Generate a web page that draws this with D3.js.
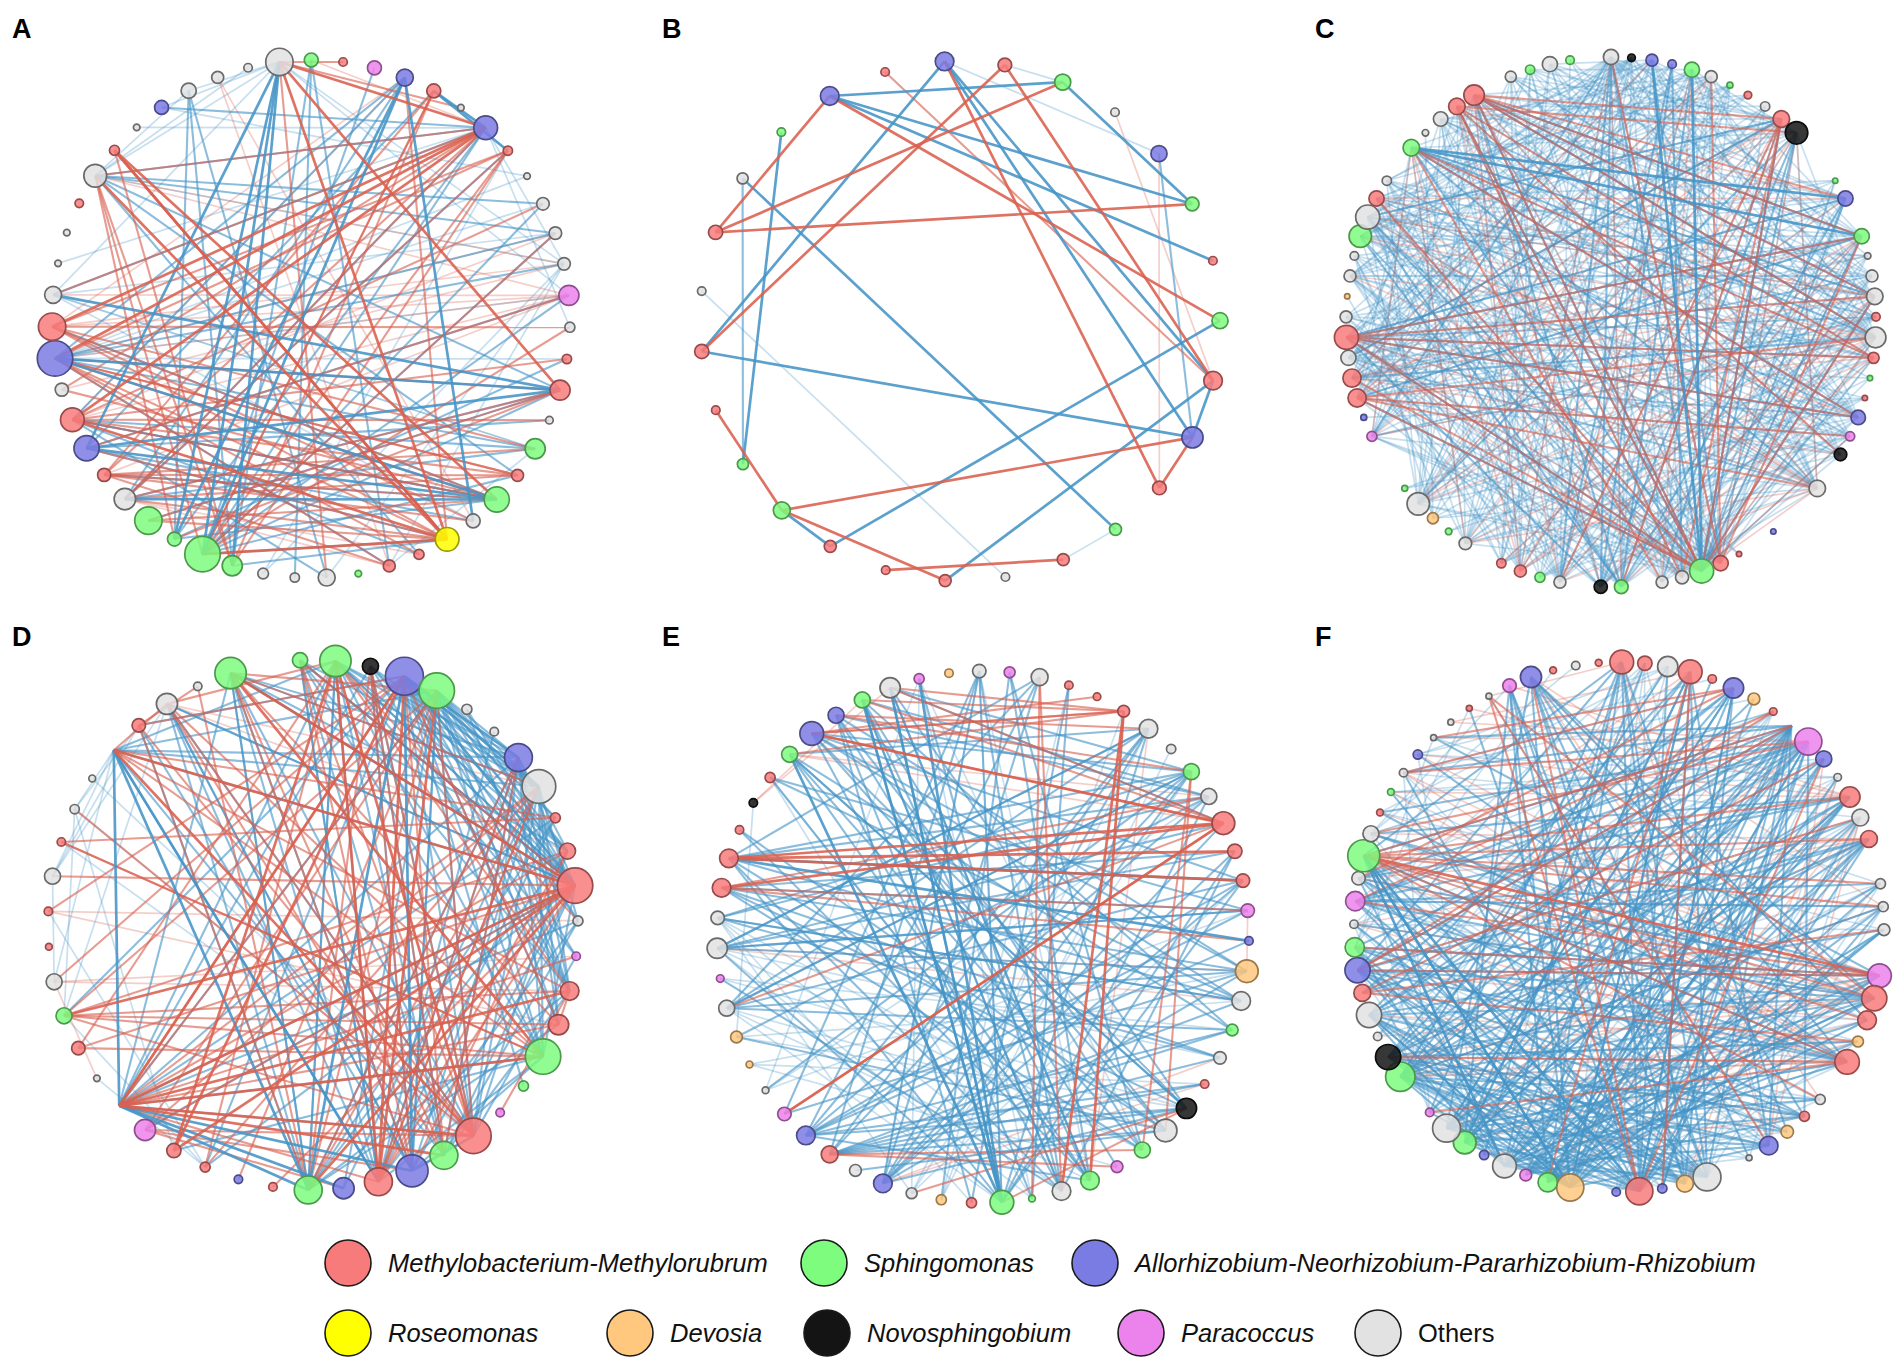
<!DOCTYPE html>
<html>
<head>
<meta charset="utf-8">
<script src="https://cdn.jsdelivr.net/npm/d3@7"></script>
<style>
  body{margin:0;background:#fff;}
  svg{display:block;font-family:"Liberation Sans",Arial,sans-serif;}
</style>
</head>
<body>
<svg id="fig" width="1904" height="1367"></svg>
<script>
// genus groups (legend order)
var genera = ["M","S","R","Y","D","N","P","O"];
var generaNames = ["Methylobacterium-Methylorubrum","Sphingomonas","Allorhizobium-Neorhizobium-Pararhizobium-Rhizobium",
                   "Roseomonas","Devosia","Novosphingobium","Paracoccus","Others"];
var generaColors = ["#f87b7b","#7efc7e","#7b7be4","#ffff00","#ffc87e","#141414","#ec82ec","#e2e2e2"];

// ---- A ----
var groupsA = ["O","S","M","P","R","M","O","R","M","O","O","O","O","P","O","M","M","O","S","M","S","O","Y","M","M","S",
               "O","O","O","S","S","S","S","O","M","R","M","O","R","M","O","O","O","M","O","M","O","R","O","O","O"];
var sizesA = [5.2,1.35,0.5,1.35,2,1.35,0.3,3.9,0.6,0.3,1.1,1.1,1.1,2.8,0.7,0.6,2.8,0.4,2.8,1,4.4,1.35,3.9,0.7,1,0.3,
              2,0.6,0.8,2.8,8.7,1.35,5.2,3.2,1.2,4.4,3.9,1.2,8.7,5.2,2,0.3,0.3,0.5,3.6,0.7,0.3,1.35,1.6,1,0.5];
var negA = [[0,3,[29,31,35,30]],[0,1,[44,40,48,12,13]],[4,3,[30,31,21]],[4,2,[33,36,38]],[5,3,[8,7]],
            [7,2,[44,40,47,30,33]],[7,1,[12,14,41,46]],[16,3,[38,35,40]],[16,2,[30,44,32]],[20,3,[38,35,33]],
            [20,2,[31,34,39,36]],[22,2,[30,29,35]],[30,2,[13,10,11,19,3]],[38,2,[12,11,18,24]],[38,1,[10,9,13,15]],
            [44,2,[10,11,19,23]],[44,1,[12,48,50]],[35,2,[13,21,17,5]],[33,2,[16,18,8]],[48,2,[29,31,26]],
            [1,2,[27,29,24]],[40,1,[11,18,21]],[36,2,[18,20,26,23]],[18,1,[24,40]],[31,2,[7,15]],[28,1,[8,12]],
            [47,1,[0,9]],[12,1,[24,26]]];
var posA = [[0,3,[7,22,16]],[0,2,[6,26,2]],[7,3,[38,36,39]],[7,2,[40,44,34,37,33]],[8,2,[33,38,30]],
            [13,1,[38,39,36,44,40,34]],[13,2,[35]],[12,1,[39,37,44]],[16,2,[32,33,31,38]],[19,2,[38,36,33]],
            [20,2,[39,37,36,34,32]],[22,3,[45,44,30,36]],[22,2,[39,35,33,32,4]],[24,2,[38,34]],[29,2,[45,5,8]],
            [30,2,[5,11,14]],[36,2,[17,15,10]],[38,2,[19,20,22,23]],[39,2,[18,14,21,8]],[44,2,[29,30,31]],
            [45,3,[22,20]],[34,2,[18,21,19]],[5,2,[34,30]],[4,1,[39,36]],[11,1,[36,38]],[49,1,[21,24]],
            [1,1,[7]],[33,1,[23,24]]];

// ---- B ----
var groupsB = ["R","M","S","O","R","S","M","S","M","R","M","S","M","O","M","M","M","S","S","M","M","O","M","O","S","R","M"];
var sizesB = [2.4,1.3,1.8,0.5,1.8,1.3,0.5,1.8,2.4,3.1,1.3,1,1,0.5,1,0.5,1,2,0.85,0.5,1.4,0.5,1.4,0.85,0.5,2.4,0.5];
var negB = [[25,3,[2,5,6]],[0,3,[9,8,20]],[1,1,[2]],[0,1,[4]],[2,3,[5]],[4,2,[9]],[7,3,[16]],[8,3,[14]],
            [20,3,[9]],[23,3,[11]],[24,3,[18]],[23,2,[18]],[21,1,[13]],[17,3,[16]],[12,1,[11]],[9,3,[8]]];
var posB = [[22,3,[25,2,5]],[20,3,[1]],[25,3,[7]],[26,2,[8]],[0,3,[10]],[1,3,[8]],[3,1,[8]],[4,1,[10]],
            [10,3,[9]],[9,3,[17]],[19,3,[17]],[17,3,[14]],[15,3,[12]]];

// ---- C ---- (size 0 = empty slot)
var groupsC = ["O","N","R","R","S","O","S","M","O","M","N","O","O","S","R","O","S","O","O","O","M","O","M","S","M","R",
               "P","N","O","O","O","O","R","O","M","M","S","O","O","O","S","N","O","O","S","M","M","O","O","S","D","O",
               "S","O","O","P","R","M","M","O","M","O","D","O","O","S","O","M","O","O","S","O","O","M","M","O","O","S",
               "O","S","O"];
var sizesC = [1.6,0.4,1,0.5,1.6,1,0.25,0.4,0.6,1.9,3.5,0,0,0.2,1.6,0,1.6,0.3,1,1.9,0.5,3,0.85,0.2,0.2,1.45,
              0.6,1.1,0,1.9,0,0,0.2,0,0.2,1.6,4,1.2,1,0,1.3,1.2,0,1,0.7,1,0.6,0,1.1,0.3,0.85,3.5,
              0.25,0,0,0.7,0.25,2.3,2.3,1.6,4,1,0.2,1,0.5,3.5,4,1.6,0.6,0,1.9,0.3,1.45,1.9,2.9,0,0.85,0.6,
              1.6,0.5,0];
var negC = [[70,3,[14,16]],[70,2,[25,29,36,21,19]],[36,3,[4,2]],[36,2,[0,9,10,14,16,19,57,60,66,73,74]],
            [36,1,[5,8,13,17,18,21,22,26,27,48,51,55,59,63,64,67]],[40,2,[4,14,65,66,74]],
            [40,1,[0,2,5,9,16,18,21,58,61,68]],[41,2,[0,3,10,60]],[41,1,[6,8,14,19,22,57,63,72]],
            [0,1,[16,19,21,25,27,29,35,37,45,48,51,57,58,60,63,66]],[0,2,[43,55]],[1,1,[17,20,29,38,44,50,59,65]],
            [2,1,[18,22,29,37,46,51,57,66,70]],[4,1,[19,21,27,35,43,48,59,63,67]],[5,1,[16,25,38,45,55,60,65,72]],
            [9,1,[36,40,43,48,51,58,61,65,72,77]],[9,2,[59,66]],[10,1,[0,2,4,21,29,35,45,57,63,67,70,74,78]],
            [10,2,[38,51]],[14,1,[35,37,44,51,55,58,60,64,66,72,76]],[16,1,[38,43,46,48,57,59,61,65,67,73,78]],
            [18,1,[40,45,50,58,63,66,68,74]],[19,1,[37,43,51,57,60,65,70,76]],
            [21,1,[35,41,44,48,55,59,61,66,72,74,77,79]],[21,2,[58]],[22,1,[36,45,51,60,64,70]],
            [25,1,[37,40,46,51,58,63,67,72,76,78]],[27,1,[43,48,57,61,65,73]],[29,1,[38,44,50,55,59,64,66,68,74,79]],
            [35,1,[51,55,59,63,66,70,72,78]],[37,1,[55,58,61,65,67,73,77]],[43,1,[59,63,66,70,74,79]],
            [45,1,[60,64,67,72,76]],[48,1,[61,65,70,73,78,2,6]],[51,1,[66,68,72,74,76,0,4,8]],
            [55,1,[70,74,77,3,7,20]],[57,1,[70,73,76,1,5,20,26]],[58,1,[72,77,2,8,18,25]],[59,1,[74,3,9,17,26,29]],
            [60,1,[4,7,20,22,27,29,35]],[60,2,[14,25]],[63,1,[1,6,18,24,34,38]],[65,1,[2,7,17,22,26,29,37]],
            [66,1,[3,9,19,22,27,35,38,44]],[67,1,[5,13,20,25,34,40]],[68,1,[0,6,21,26,37,43]],[72,1,[7,20,27,38,46]],
            [73,1,[8,22,29,41,44]],[74,1,[5,16,25,35,41,45]],[76,1,[9,19,26,37,43]],[77,1,[4,14,27,38,45]],
            [78,1,[2,18,29,36,46]],[3,2,[37,43]],[2,2,[35]],[16,2,[57,60]],[74,2,[19,21,16]],[26,1,[36,44,48,50]],
            [20,1,[41,46,49,52]],[24,1,[44,49,52,56]],[46,1,[62,64,77]],[50,1,[64,67,71,8]],
            [1,1,[40,46,55,61,68]],[6,1,[37,44,51,59,65]],[13,1,[36,43,57,63]],[17,1,[41,48,58,66]],
            [20,1,[55,60,67,72]],[23,1,[38,46,59,70]],[26,1,[61,68,74,2]]];
var posC = [[36,2,[58,57,60,67,73,74,9,19]],[36,1,[21,16,26,29]],[74,2,[9,14,16,19,21]],[74,1,[29,35,41,45]],
            [73,2,[10,22,27,37]],[73,1,[40,43,14]],[70,2,[22,25,38]],[70,1,[45,48,55]],[60,2,[16,19,22,25]],
            [60,1,[29,35,37]],[57,2,[21,26,29]],[57,1,[5,9]],[58,1,[19,27,16,2]],[9,2,[37,40,43]],[9,1,[45,51,55,59]],
            [10,1,[29,35,45,48]],[21,1,[45,51,55,63]],[22,1,[40,48,57]],[29,1,[43,48,63,66]],[35,2,[0,5,16]],
            [67,1,[14,19,29,37]],[0,1,[40,45]],[4,1,[38,43]],[16,1,[43,46,51]],[19,1,[41,45,66]],[65,1,[21,25]],
            [51,1,[5,14]]];

// ---- D ----
var groupsD = ["S","S","N","R","S","O","O","R","O","M","M","M","O","P","M","M","S","S","P","M","S","R","M","R",
               "S","M","R","M","M","P","O","O","M","S","O","M","M","O","M","O","O","O","M","O","O","S","O"];
var sizesD = [1.6,6.8,1.8,10,8.7,0.7,0.5,5.4,7.9,0.7,1.8,8.7,0.7,0.5,2.4,2.85,8.7,0.7,0.5,8.7,5.4,7.1,5.4,3.1,
              5.4,0.5,0.5,0.7,1.4,3.1,0,0.3,1.26,1.78,1.78,0.32,0.49,1.78,0.49,0.6,0.32,0,1.26,3.1,0.49,6.8,0];
var negD = [[41,3,[30,24,22]],[41,2,[8,7,11,4,1,20]],[41,1,[37,39,34]],[30,3,[24,23,21]],[30,2,[45,1,11,16,19,7]],
            [3,3,[11,8,7,21,24]],[3,2,[16,19,33,27,42,14]],[4,2,[11,10,21,23,30,15]],[1,2,[22,24,20,11,16]],
            [45,2,[21,24,19,11,22]],[2,2,[8,19,20]],[7,2,[11,10,19,24]],[8,2,[16,19,21]],[11,2,[16,20,21,27,29]],
            [16,2,[21,22,28]],[43,2,[19,21,11]],[0,2,[20,22,8]],[24,2,[10,15,14,9]],[22,2,[9,6,12]],
            [37,1,[34,43,42]],[39,1,[33,42,28]],[33,1,[27,43]],[20,2,[12,14]],[21,3,[19]],[19,2,[10,13]],
            [27,1,[36,31]],[5,2,[14,11]],
            [3,2,[9,10,12,13,15,17]],[4,2,[7,8,9,12,14,16,19]],[1,2,[7,8,10,13]],[7,2,[14,15,16,20,22]],
            [11,2,[1,45,0,43]],[45,2,[7,8,10]],[24,2,[42,43,45,1]],[21,2,[42,43,2,4]],[30,2,[2,9,12]],
            [8,2,[12,14,15,23]],[0,2,[11,14,16]],[2,2,[10,11,14]],[19,1,[38,39,40]],[22,2,[41,43,0]]];
var posD = [[30,3,[11,16,19,20,14]],[30,2,[3,4,8,10,15,22,13]],[41,3,[11,19]],[41,2,[16,14,9,43]],
            [3,3,[28,30,22]],[3,2,[34,36,42,15,20]],[4,2,[24,26,29,33,19]],[1,3,[19,28]],[1,2,[27,32,14,12,43]],
            [45,3,[11,16]],[45,2,[8,15,20,4]],[11,3,[33,28,24]],[11,2,[32,22,25,29,37,0]],[8,2,[24,27,29,22]],
            [19,2,[43,42,39,0,33]],[16,2,[33,38,43,32]],[22,3,[4,1]],[22,2,[10,7,8]],[24,2,[7,2,44]],
            [20,2,[2,43,7]],[21,2,[0,10,45]],[33,2,[14,15,10]],[34,1,[14,13,31]],[36,1,[15,12]],[38,2,[9,16]],
            [29,2,[19,21,23]],[42,2,[44,24]],[43,1,[8,10]],[14,2,[15,18]],[2,2,[19,21]]];

// ---- E ----
var groupsE = ["O","P","O","M","M","M","O","O","S","O","M","M","M","P","R","D","O","S","O","M","N","O","S","P","S",
               "O","S","S","M","D","O","R","O","M","R","P","O","D","D","O","P","O","O","M","M","M","N","M","S","R",
               "R","S","O","P","D"];
var sizesE = [1.26,0.83,1.98,0.49,0.4,0.97,2.4,0.6,1.78,1.78,3.6,1.43,1.26,1.26,0.49,3.6,2.4,0.97,1.1,0.49,2.85,
              3.6,1.78,0.97,2.4,2.4,0.32,3.9,0.71,0.71,0.83,2.4,0.97,1.98,2.4,1.26,0.32,0.32,0.97,1.78,0.4,2.85,
              1.26,2.4,2.4,0.49,0.49,0.71,1.78,3.9,1.78,1.78,2.85,0.71,0.49];
var negE = [[49,2,[15,16,20,21,12,8]],[51,2,[22,24,25,27,17,9]],[52,2,[8,10,24,27,20]],[44,3,[14,12]],
            [44,2,[16,21,25,8]],[43,2,[20,22,18,11]],[41,2,[10,11,13,15,6]],[42,2,[16,18,8,9]],[39,2,[6,8,12,17]],
            [0,2,[27,31,33,25,35]],[1,2,[24,22,29]],[2,2,[31,34,39,44]],[6,2,[33,34,31,41,48]],[8,2,[33,36,39,31]],
            [9,2,[34,38,44,50]],[13,2,[34,41,43,47]],[15,2,[31,35,43,39,50]],[16,2,[33,42,47]],[20,2,[31,33,34,48]],
            [21,2,[32,38,45,50]],[24,2,[45,47,48,34,52]],[25,2,[49,51,53,40]],[27,3,[48,51,52,53]],
            [27,2,[6,9,12,44,41]],[31,2,[10,12,11]],[34,2,[12,14,17,19]],[33,2,[17,18,21,19]],[48,2,[17,20,22]],
            [53,1,[26,22,30,36]],[0,1,[31,27,24]],[38,1,[20,16,46]],[47,1,[24,26]],[29,1,[3,5,7]],[30,1,[6,8,12]],
            [36,1,[9,13]],[40,1,[20,17]],[11,2,[25,27]],[50,2,[23,26,28]],[3,2,[26,28]],
            [42,1,[22,25,28,30]],[39,1,[21,24,27]],[41,1,[18,22,26]],[37,1,[15,19,23]]];
var posE = [[5,3,[25,24]],[5,2,[52,51,49,48]],[10,3,[43,44,49]],[10,2,[51,52,35,39]],[44,3,[12,11]],
            [43,2,[14,9,13]],[49,2,[5,4,10]],[50,2,[6,8]],[35,3,[10]],[2,2,[25,26]],[8,2,[22,21]],[20,2,[27,30]],
            [31,1,[18,19]],[41,1,[16,15]],[33,2,[22,23]],[48,1,[9,10]],[46,1,[51,52]],[6,1,[24]],[15,1,[13]]];

// ---- F ----
var groupsF = ["M","M","O","M","M","R","D","M","O","P","R","O","M","O","M","O","O","O","O","O","P","M","M","D",
               "M","O","O","M","D","R","O","O","O","D","R","M","R","O","D","S","P","O","R","S","O","P","O","S",
               "N","O","O","M","R","S","O","P","O","S","O","M","S","O","R","O","O","M","O","P","R","M","O","M"];
var sizesF = [3.9,1.43,2.85,3.9,0.49,2.85,0.97,0.4,0,5.1,1.78,0.4,2.85,1.98,1.98,0,0.71,0.71,0.97,0,3.9,4.4,2.4,
              0.83,4.15,0,0.71,0.71,1.1,2.4,0.25,0,5.4,1.98,0.6,5.1,0.49,0,5.1,2.6,0.97,3.9,0.6,3.6,5.4,0.49,0,
              6,4.4,0.49,4.4,1.98,4.4,2.6,0.49,2.6,1.26,7.1,1.78,0.32,0.32,0.49,0.6,0.25,0.25,0.25,0.25,1.26,3.1,
              0.32,0.49,0.32];
var negF = [[8,2,[29,32,35,38,41,43,44,47,50,52,55,57,61,63,39,34]],[9,2,[27,34,39,48,53,56,59,45]],
            [35,2,[0,2,5,9,13,17,53,55,61,65]],[38,2,[3,6,10,14,18,20,48,52,57]],[41,2,[0,4,12,13,18,21,24]],
            [43,2,[1,3,9,12,20,22,67]],[44,2,[5,9,13,16,24,26,68]],[47,2,[2,10,12,17,21,26,28,32]],
            [48,2,[6,12,14,20,23,29,35]],[50,2,[3,9,13,18,27,32,38]],[52,2,[0,5,14,21,24,28,33]],
            [32,2,[0,3,55,57,60,67,68]],[29,1,[1,52,56,57,61,66]],[24,2,[53,55,57,59,62,68]],
            [20,2,[52,53,56,58,63,40]],[68,2,[21,22,27,30,33,38]],[0,2,[28,33,39,42,45,57]],[3,2,[29,34,38,43,48]],
            [5,2,[33,35,40,44,47,51]],[57,3,[35,38,41]],[55,2,[9,12,16,17,21]],[12,2,[39,40,43,56,58]],
            [14,2,[35,41,44,47,51]],[21,2,[39,41,44,50,54,58]],[27,2,[40,43,48,53,56]],[33,2,[43,47,50,54,56]],
            [39,2,[9,11,16,18,22]],[40,2,[10,14,17,23]],[1,1,[35,38,42,47,49,54]],[2,1,[36,40,47,49,59]],
            [7,1,[38,42,45,49,51,56,58]],[10,1,[36,41,47,51,54,60]],[11,1,[32,38,45,51,60,62]],
            [13,1,[30,36,47,52,61]],[16,1,[33,38,45,49,63]],[17,1,[32,42,47,55]],[18,1,[38,41,54,59]],
            [22,1,[39,45,51,58,60]],[23,1,[35,42,48,55]],[26,1,[36,43,50,56]],[28,1,[41,45,53,57]],[30,1,[39,44,52]],
            [34,1,[47,54,58]],[36,1,[47,50,54]],[42,1,[52,58,62]],[45,1,[54,57,61]],[53,1,[63,65,69]],
            [58,1,[67,70,7]],[61,1,[5,6]],[62,1,[2,4]],[67,2,[35,38,39,33]],
            [38,2,[43,45,47,50,53]],[41,2,[47,50,53,56]],[35,2,[41,44,47,50]],[32,2,[41,44,48,52]],
            [29,2,[38,41,44,47]],[24,1,[38,41,44,47,50]]];
var posF = [[57,3,[20]],[57,2,[8,12,14,16,17,22,24,26,21]],[52,2,[8,13,20]],[52,1,[22]],[47,1,[9,17,20,24]],
            [48,1,[14,21,24]],[51,2,[10,18,23]],[44,1,[12,20,22]],[20,2,[53,55]],[20,1,[56,59]],[21,1,[54,56,49,62]],
            [24,2,[45,48]],[24,1,[54,60]],[12,1,[60,62,65,67]],[14,1,[54,56,58]],[9,2,[58,61]],[9,1,[64,63]],
            [3,2,[34,39]],[3,1,[55,64]],[0,1,[29,66]],[5,2,[63,61,56]],[35,2,[10,68,66]],[33,1,[13,11]],
            [68,1,[22,26,17]],[66,2,[29,21]],[27,1,[42,48]],[7,2,[52,55]],[23,1,[50,43,47]],[29,1,[10,13]],
            [39,1,[13,20]],[61,1,[21,24]]];

// layout of the six panels
var panels = [
  {label:"A", lx:12,   ly:38,  cx:311,  cy:319, r:259, start:-7,   groups:groupsA, sizes:sizesA, pos:posA, neg:negA},
  {label:"B", lx:662,  ly:38,  cx:960,  cy:321, r:260, start:-3.4, groups:groupsB, sizes:sizesB, pos:posB, neg:negB},
  {label:"C", lx:1315, ly:38,  cx:1611, cy:322, r:265, start:0,    groups:groupsC, sizes:sizesC, pos:posC, neg:negC},
  {label:"D", lx:12,   ly:646, cx:313,  cy:925, r:265, start:-2.8, groups:groupsD, sizes:sizesD, pos:posD, neg:negD},
  {label:"E", lx:662,  ly:646, cx:983,  cy:937, r:266, start:-0.8, groups:groupsE, sizes:sizesE, pos:posE, neg:negE},
  {label:"F", lx:1315, ly:646, cx:1619, cy:927, r:265, start:0.6,  groups:groupsF, sizes:sizesF, pos:posF, neg:negF}
];

var color = d3.scaleOrdinal().domain(genera).range(generaColors);
var radius = d3.scaleSqrt().domain([0, 10]).range([0, 19]);
var edgeColor = {pos: "#d9604f", neg: "#4694c6"};
var edgeOpacity = d3.scaleOrdinal().domain([1,2,3]).range([0.3, 0.62, 0.88]);
var edgeWidth = d3.scaleOrdinal().domain([1,2,3]).range([1.7, 2.1, 2.7]);

var svg = d3.select("#fig");

function flatten(list, sign){
  var out = [];
  list.forEach(function(row){
    row[2].forEach(function(t){ out.push({s: row[0], t: t, w: row[1], sign: sign}); });
  });
  return out;
}

panels.forEach(function(p){
  var n = p.groups.length,
      angle = d3.scaleLinear().domain([0, n]).range([p.start, p.start + 360]);

  var nodes = p.groups.map(function(g, i){
    var a = angle(i) * Math.PI / 180;
    return {g: g, size: p.sizes[i], x: p.cx + p.r * Math.sin(a), y: p.cy - p.r * Math.cos(a)};
  });

  var edges = flatten(p.neg, "neg").concat(flatten(p.pos, "pos"));
  // faint first, strong on top
  edges.sort(function(a, b){ return a.w - b.w; });

  var g = svg.append("g").attr("class", "panel");

  g.selectAll("line.edge").data(edges).enter().append("line")
      .attr("class", "edge")
      .attr("x1", function(d){ return nodes[d.s].x; })
      .attr("y1", function(d){ return nodes[d.s].y; })
      .attr("x2", function(d){ return nodes[d.t].x; })
      .attr("y2", function(d){ return nodes[d.t].y; })
      .attr("stroke", function(d){ return edgeColor[d.sign]; })
      .attr("stroke-opacity", function(d){ return edgeOpacity(d.w); })
      .attr("stroke-width", function(d){ return edgeWidth(d.w); });

  g.selectAll("circle.node").data(nodes.filter(function(d){ return d.size > 0; })).enter().append("circle")
      .attr("class", "node")
      .attr("cx", function(d){ return d.x; })
      .attr("cy", function(d){ return d.y; })
      .attr("r", function(d){ return radius(d.size); })
      .attr("fill", function(d){ return color(d.g); })
      .attr("fill-opacity", 0.85)
      .attr("stroke", function(d){ return d.g === "O" ? "#6a6a6a" : d3.color(color(d.g)).darker(1.4); })
      .attr("stroke-width", 1.7);

  svg.append("text")
      .attr("x", p.lx).attr("y", p.ly)
      .attr("font-size", 27).attr("font-weight", "bold")
      .text(p.label);
});

// legend
var legendRows = [[0,1,2],[3,4,5,6,7]];
var legendX = [[348,824,1095],[348,630,827,1141,1378]];
var legendY = [1263, 1333];

legendRows.forEach(function(row, ri){
  var items = svg.append("g").attr("class", "legend").selectAll("g").data(row).enter().append("g")
      .attr("transform", function(d, i){ return "translate(" + legendX[ri][i] + "," + legendY[ri] + ")"; });
  items.append("circle")
      .attr("r", 23)
      .attr("fill", function(d){ return generaColors[d]; })
      .attr("stroke", "#1a1a1a").attr("stroke-width", 1.6);
  items.append("text")
      .attr("x", 40).attr("dy", "0.35em")
      .attr("font-size", 25.5)
      .attr("font-style", function(d){ return genera[d] === "O" ? "normal" : "italic"; })
      .attr("fill", "#111")
      .text(function(d){ return generaNames[d]; });
});
</script>
</body>
</html>
